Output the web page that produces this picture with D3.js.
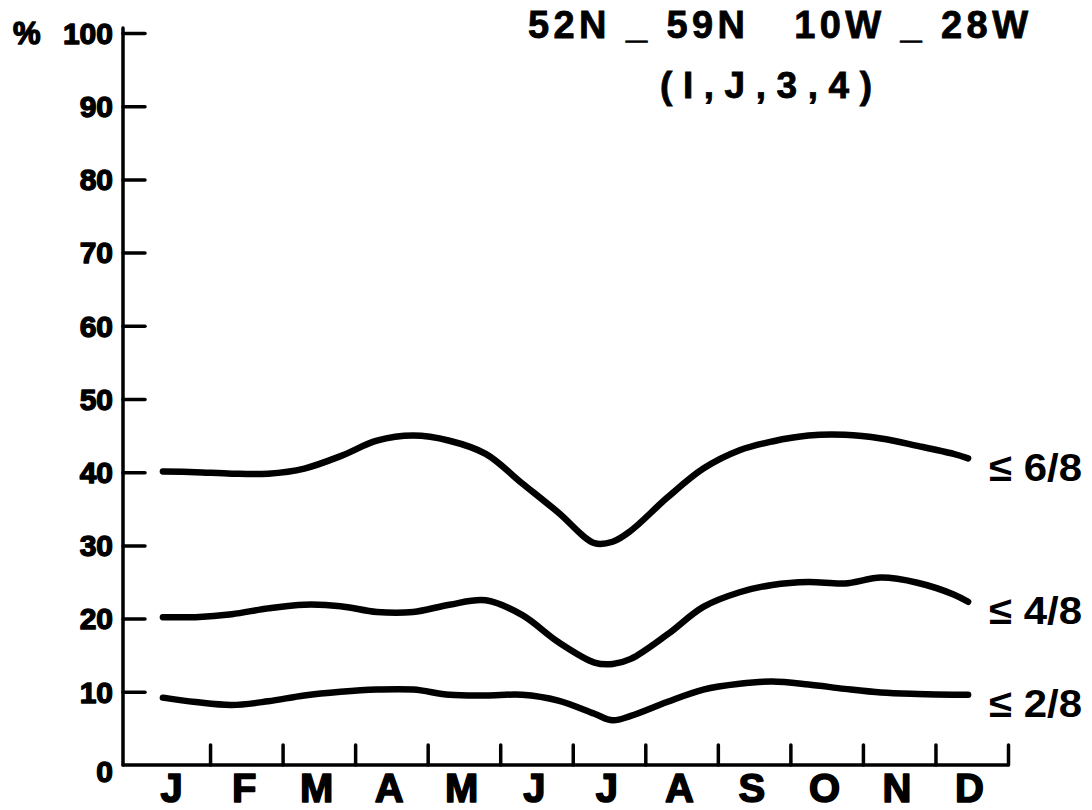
<!DOCTYPE html>
<html>
<head>
<meta charset="utf-8">
<script src="https://cdn.jsdelivr.net/npm/d3@7"></script>
<style>
  html, body { margin: 0; padding: 0; background: #fff; }
  svg { display: block; }
  text { font-family: "Liberation Sans", Arial, sans-serif; fill: #000; }
</style>
</head>
<body>
<svg id="chart" width="1092" height="810"></svg>
<script>
// Month labels along the bottom axis
const monthLabels = ["J", "F", "M", "A", "M", "J", "J", "A", "S", "O", "N", "D"];

// Position along the year (in months, 0 = start of January) of each sampled point
const monthPos = [0.35, 0.8, 1.3, 1.8, 2.3, 2.8, 3.3, 3.8, 4.3, 4.8, 5.3, 5.8,
                  6.3, 6.55, 6.8, 7.3, 7.8, 8.3, 8.75, 9.25, 9.75, 10.25, 10.75, 11.25, 11.45];

// Frequency (%) of cloud amount not exceeding 6/8, 4/8 and 2/8
const le68 = [40.1, 40.0, 39.8, 39.8, 40.5, 42.2, 44.3, 45.0, 44.3, 42.5, 38.5, 34.5,
              30.3, 30.5, 32.0, 36.5, 40.5, 43.0, 44.2, 45.0, 45.1, 44.6, 43.6, 42.5, 41.9];
const le48 = [20.2, 20.2, 20.6, 21.4, 21.9, 21.7, 20.9, 20.9, 21.9, 22.5, 20.5, 16.8,
              14.0, 13.8, 14.5, 17.8, 21.6, 23.6, 24.6, 25.0, 24.8, 25.6, 24.9, 23.3, 22.3];
const le28 = [9.2, 8.6, 8.2, 8.7, 9.5, 10.0, 10.3, 10.3, 9.6, 9.5, 9.6, 8.8,
              7.0, 6.1, 6.7, 8.6, 10.3, 11.1, 11.4, 11.0, 10.4, 9.9, 9.7, 9.6, 9.6];

const seriesNames = ["\u2264 6/8", "\u2264 4/8", "\u2264 2/8"];
const seriesValues = [le68, le48, le28];

// Y axis ticks
const yTicks = [0, 10, 20, 30, 40, 50, 60, 70, 80, 90, 100];

const titleLine1 = "52N _ 59N   10W _ 28W";
const titleLine2 = "( I , J , 3 , 4 )";

const svg = d3.select("#chart");

const x = d3.scaleLinear().domain([-0.2, 12]).range([123, 1008]);
const y = d3.scaleLinear().domain([0, 100]).range([765, 33]);

// ---- Y axis ----
const yAxis = d3.axisLeft(y)
  .tickValues(yTicks)
  .tickSizeInner(-22)
  .tickSizeOuter(0)
  .tickPadding(10)
  .tickFormat(d3.format("d"));

const gy = svg.append("g")
  .attr("transform", `translate(${x(-0.2)},0)`)
  .call(yAxis);
gy.select(".domain").remove();
gy.selectAll(".tick line")
  .attr("stroke", "#000")
  .attr("stroke-width", 3.5)
  .attr("stroke-linecap", "round")
  .filter(d => d === 0).remove();
gy.selectAll(".tick text")
  .style("font-size", "30px")
  .style("font-weight", "700")
  .attr("stroke", "#000")
  .attr("stroke-width", 1.4)
  .attr("stroke-linejoin", "round")
  .attr("fill", "#000")
  .attr("dy", d => d === 0 ? "0.55em" : "0.34em");

// Vertical axis line
svg.append("line")
  .attr("x1", x(-0.2)).attr("x2", x(-0.2))
  .attr("y1", y(100) - 5).attr("y2", y(0))
  .attr("stroke", "#000").attr("stroke-width", 3.5)
  .attr("stroke-linecap", "round");

// "%" marker beside the 100 label
svg.append("text")
  .attr("x", 13).attr("y", y(100))
  .attr("dy", "0.34em")
  .style("font-size", "31px")
  .style("font-weight", "700")
  .attr("stroke", "#000").attr("stroke-width", 1.4)
  .attr("stroke-linejoin", "round")
  .text("%");

// ---- X axis ----
const xAxis = d3.axisBottom(x)
  .tickValues(d3.range(1, 13))
  .tickSizeInner(-20)
  .tickSizeOuter(0)
  .tickFormat("");

const gx = svg.append("g")
  .attr("transform", `translate(0,${y(0)})`)
  .call(xAxis);
gx.select(".domain").remove();
gx.selectAll(".tick line")
  .attr("stroke", "#000")
  .attr("stroke-width", 3.5)
  .attr("stroke-linecap", "round");

svg.append("line")
  .attr("x1", x(-0.2)).attr("x2", x(12))
  .attr("y1", y(0)).attr("y2", y(0))
  .attr("stroke", "#000").attr("stroke-width", 3.5)
  .attr("stroke-linecap", "round");

// Month letters
svg.append("g")
  .selectAll("text")
  .data(monthLabels)
  .join("text")
  .attr("x", (d, i) => x(i + 0.47))
  .attr("y", 802)
  .attr("text-anchor", "middle")
  .style("font-size", "40px")
  .style("font-weight", "700")
  .attr("stroke", "#000")
  .attr("stroke-width", 1.6)
  .attr("stroke-linejoin", "round")
  .text(d => d);

// ---- Curves ----
const line = d3.line()
  .x((d, i) => x(monthPos[i]))
  .y(d => y(d))
  .curve(d3.curveCatmullRom.alpha(0.5));

svg.append("g")
  .selectAll("path")
  .data(seriesValues)
  .join("path")
  .attr("d", d => line(d))
  .attr("fill", "none")
  .attr("stroke", "#000")
  .attr("stroke-width", 6.5)
  .attr("stroke-linecap", "round")
  .attr("stroke-linejoin", "round");

// Series labels at the right end of each curve
svg.append("g")
  .selectAll("text")
  .data(seriesValues)
  .join("text")
  .attr("x", 989)
  .attr("y", d => y(d[d.length - 1]) + 9)
  .attr("dy", "0.35em")
  .style("font-size", "39px")
  .style("font-weight", "700")
  .attr("textLength", 93)
  .attr("lengthAdjust", "spacingAndGlyphs")
  .text((d, i) => seriesNames[i]);

// ---- Title ----
svg.append("text")
  .attr("x", 528).attr("y", 38)
  .style("font-size", "38px")
  .style("font-weight", "700")
  .attr("stroke", "#000").attr("stroke-width", 0.8)
  .attr("textLength", 500)
  .attr("lengthAdjust", "spacing")
  .attr("xml:space", "preserve")
  .text(titleLine1);

svg.append("text")
  .attr("x", 660).attr("y", 98)
  .style("font-size", "37px")
  .style("font-weight", "700")
  .attr("stroke", "#000").attr("stroke-width", 0.8)
  .attr("textLength", 212)
  .attr("lengthAdjust", "spacing")
  .text(titleLine2);
</script>
</body>
</html>
